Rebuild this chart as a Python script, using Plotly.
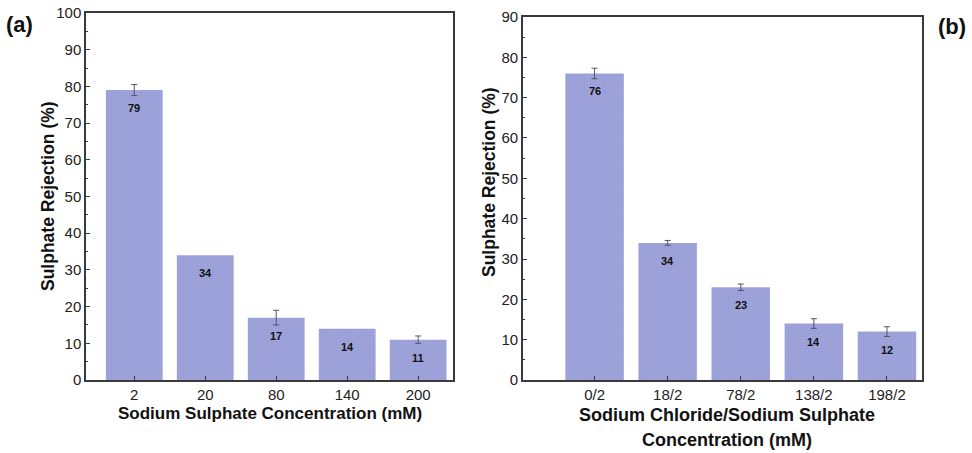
import plotly.graph_objects as go

# Panel (a)
cats_a = ["2", "20", "80", "140", "200"]
vals_a = [79, 34, 17, 14, 11]
err_a = [1.5, None, 2.0, None, 1.0]

# Panel (b)
cats_b = ["0/2", "18/2", "78/2", "138/2", "198/2"]
vals_b = [76, 34, 23, 14, 12]
err_b = [1.3, 0.6, 0.8, 1.2, 1.2]

BAR = "#9ea3da"
AX = "#3a3a3a"
FONT = "Liberation Sans, Arial, sans-serif"

fig = go.Figure()
for cats, vals, err, xa, ya in [(cats_a, vals_a, err_a, "x", "y"), (cats_b, vals_b, err_b, "x2", "y2")]:
    fig.add_trace(go.Bar(
        x=cats, y=vals, xaxis=xa, yaxis=ya,
        marker=dict(color=BAR, line=dict(width=0),
                    pattern=dict(shape=".", fgcolor="#8e93cc", bgcolor=BAR, size=3, solidity=0.3)),
        showlegend=False, hoverinfo="skip",
    ))
    keep = [i for i, e in enumerate(err) if e is not None]
    fig.add_trace(go.Scatter(
        x=[cats[i] for i in keep], y=[vals[i] for i in keep], xaxis=xa, yaxis=ya,
        mode="markers", marker=dict(size=0.1, opacity=0),
        error_y=dict(type="data", array=[err[i] for i in keep], color="#555566", thickness=1, width=3),
        showlegend=False,
    ))
    for i, v in enumerate(vals):
        fig.add_annotation(x=i, y=v, xref=xa, yref=ya, text="<b>%d</b>" % v, showarrow=False,
                           xanchor="center", yanchor="middle",
                           yshift=-18, font=dict(family=FONT, size=11, color="#111111"))

axis_common = dict(showline=True, linecolor=AX, linewidth=1.5, mirror=True,
                   showgrid=False, zeroline=False, automargin=False,
                   tickfont=dict(family=FONT, size=15, color="#222222"))

fig.update_layout(
    width=972, height=453,
    margin=dict(l=0, r=0, t=0, b=0, autoexpand=False),
    paper_bgcolor="white", plot_bgcolor="white",
    bargap=0.2,
    font=dict(family=FONT),
    xaxis=dict(domain=[0.0885, 0.466], anchor="y", type="category", range=[-0.68, 4.49],
               ticks="inside", ticklen=4, tickcolor=AX, **axis_common),
    yaxis=dict(domain=[0.1611, 0.9713], anchor="x", range=[0, 100], dtick=10,
               ticks="inside", ticklen=4, tickcolor=AX,
               minor=dict(dtick=5, ticks="inside", ticklen=2, tickcolor=AX), **axis_common),
    xaxis2=dict(domain=[0.538, 0.9486], anchor="y2", type="category", range=[-0.98, 4.48],
                ticks="inside", ticklen=4, tickcolor=AX, **axis_common),
    yaxis2=dict(domain=[0.1611, 0.9625], anchor="x2", range=[0, 90], dtick=10,
                ticks="inside", ticklen=4, tickcolor=AX,
                minor=dict(dtick=5, ticks="inside", ticklen=2, tickcolor=AX), **axis_common),
)

ytitle_font = dict(family=FONT, size=17.5, color="#111111")
xa_font = dict(family=FONT, size=17, color="#111111")
xb_font = dict(family=FONT, size=18, color="#111111")
panel_font = dict(family=FONT, size=22, color="#111111")


def label(text, px, py, font, angle=0):
    fig.add_annotation(text=text, xref="paper", yref="paper", x=px / 972, y=1 - py / 453,
                       xanchor="center", yanchor="middle", textangle=angle,
                       showarrow=False, font=font)


label("<b>Sulphate Rejection (%)</b>", 48, 196, ytitle_font, -90)
label("<b>Sulphate Rejection (%)</b>", 489, 182, ytitle_font, -90)
label("<b>Sodium Sulphate Concentration (mM)</b>", 270, 413, xa_font)
label("<b>Sodium Chloride/Sodium Sulphate</b>", 727, 415, xb_font)
label("<b>Concentration (mM)</b>", 727, 440, xb_font)
label("<b>(a)</b>", 19, 25, panel_font)
label("<b>(b)</b>", 952, 27, panel_font)

fig.write_html("out.html")
